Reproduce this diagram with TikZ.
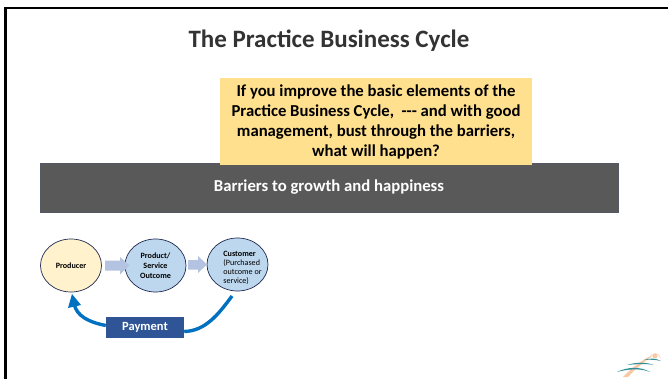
\documentclass[tikz,border=0pt]{standalone}
\usepackage{fontspec}
\setmainfont{Carlito}
\usetikzlibrary{shapes.geometric}
\definecolor{yel}{HTML}{FFE08F}
\definecolor{gry}{HTML}{595959}
\definecolor{gryedge}{HTML}{555A66}
\definecolor{pale}{HTML}{FFF2CC}
\definecolor{lblue}{HTML}{BDD7EE}
\definecolor{edgeb}{HTML}{1F2A52}
\definecolor{blockb}{HTML}{B4C3E2}
\definecolor{payb}{HTML}{2F5597}
\definecolor{arcb}{HTML}{0070C0}
\definecolor{teal2}{HTML}{2E8F96}
\definecolor{orng}{HTML}{F8C9A4}
\tikzset{
  cyc/.style={ellipse,draw=edgeb,line width=0.7pt,minimum width=61pt,minimum height=53pt,inner sep=0pt,align=center,font=\fontsize{8.1}{10}\selectfont},
  blockar/.style={fill=blockb,draw=none},
  backarc/.style={draw=arcb,line width=3.4pt},
}
\begin{document}
\begin{tikzpicture}[x=1pt,y=-1pt]
\useasboundingbox (0,0) rectangle (668,379);
\fill[white] (0,0) rectangle (668,379);
\draw[black,line width=2.4pt] (5.5,379) -- (5.5,8) -- (668,8);
\node[font=\fontsize{25}{30}\selectfont\bfseries,text=black!80] (title) at (329,40.5) {The Practice Business Cycle};
\node[fill=gry,draw=gryedge,line width=0.4pt,minimum width=578pt,minimum height=49pt,inner sep=0pt,text=white,font=\fontsize{16.7}{20}\selectfont\bfseries] (barrier) at (329,187.5) {\raisebox{-1pt}{Barriers to growth and happiness}};
\node[fill=yel,minimum width=312pt,minimum height=87pt,inner sep=0pt,align=center,text=black,font=\fontsize{16.7}{20}\selectfont\bfseries] (ask) at (376,121.5) {If you improve the basic elements of the\\Practice Business Cycle,~ -{}-{}- and with good\\management, bust through the barriers,\\what will happen?};
\node[cyc,fill=pale] (prod) at (71,265.5) {\bfseries Producer};
\node[cyc,fill=lblue] (out) at (155.5,265.5) {\bfseries Product/\\\bfseries Service\\\bfseries Outcome};
\node[cyc,fill=lblue] (cust) at (237.5,264.5) {\makebox[0pt]{\hspace{10pt}\smash{\raisebox{-6pt}{\fontsize{8.1}{9}\selectfont\begin{tabular}[c]{@{}l@{}}\bfseries Customer\\(Purchased\\outcome or\\service)\end{tabular}}}}};
\fill[blockar] (105,260.5) -- (120,260.5) -- (120,257) -- (129.5,265.5) -- (120,274.5) -- (120,270.5) -- (105,270.5) -- cycle;
\fill[blockar] (188,260) -- (198,260) -- (198,256) -- (207,264.5) -- (198,273) -- (198,269.5) -- (188,269.5) -- cycle;
\node[fill=payb,minimum width=78pt,minimum height=21pt,inner sep=0pt,text=white,font=\fontsize{12.5}{15}\selectfont\bfseries] (pay) at (145,327.5) {\raisebox{-1.5pt}{Payment}};
\coordinate (tip) at (72,294);
\coordinate (cend) at (232,296);
\draw[backarc] (pay.west) ++(0,-2) .. controls (88,322) and (77,316) .. (74,304);
\fill[arcb] (tip) -- (81,305) -- (68,308) -- cycle;
\draw[backarc] (pay.east) ++(0,4) .. controls (205,331) and (218,315) .. (cend);
% logo
\fill[orng] (623,377) .. controls (632,367) and (645,358) .. (653,355) .. controls (647,360) and (636,368) .. (628,377) -- cycle;
\fill[orng] (655,356) circle (2.5pt);
\draw[orng,line width=0.7pt,dash pattern=on 1pt off 0.8pt] (649.6,358) arc (190:350:5.5);
\fill[teal2] (617,372) .. controls (627,367) and (640,366) .. (650,372) .. controls (640,368) and (628,369) .. (617,372) -- cycle;
\fill[teal2] (627,365) .. controls (636,362) and (646,362) .. (654,365) .. controls (646,363.5) and (636,364) .. (627,365) -- cycle;
\fill[teal2] (644,360) .. controls (649,358) and (656,358) .. (661,361) .. controls (655,359.5) and (649,359.5) .. (644,360) -- cycle;
\end{tikzpicture}
\end{document}
